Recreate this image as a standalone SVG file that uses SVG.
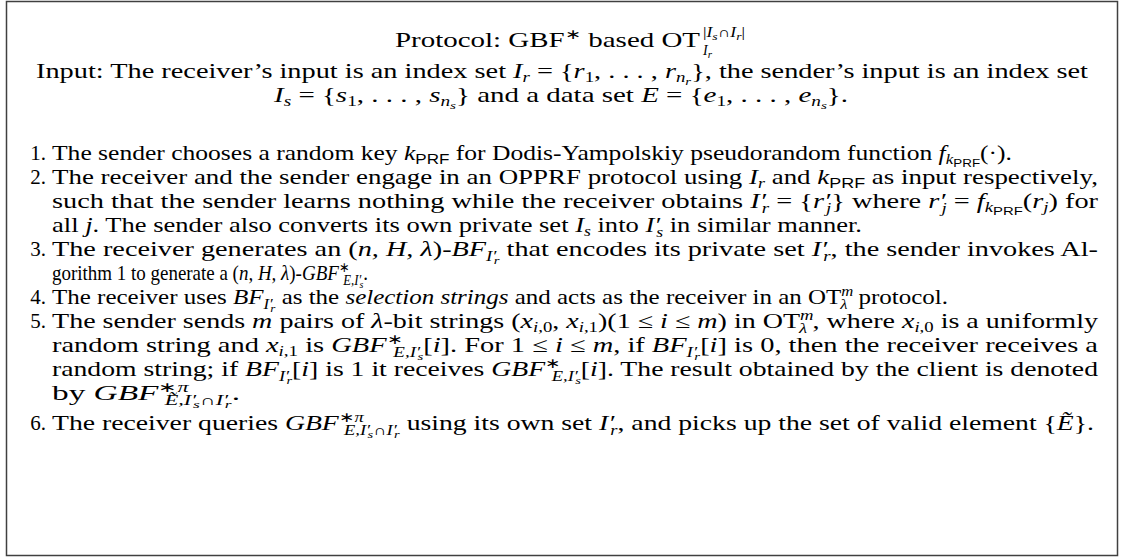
<svg xmlns="http://www.w3.org/2000/svg" width="1124" height="558" viewBox="0 0 1124 558">
<style>
.t{font-family:"Liberation Serif",serif;font-size:21px;fill:#000}
.i{font-style:italic}
.sf{font-family:"Liberation Sans",sans-serif;font-style:normal}
.s{font-size:14px}
.ss{font-size:11px}
.n{text-anchor:end}
</style>
<rect x="6.5" y="1.5" width="1111" height="554" fill="#fff" stroke="#404040" stroke-width="1.5"/>
<g id="title">
<text class="t" x="395" y="47" textLength="305" lengthAdjust="spacingAndGlyphs">Protocol: GBF<tspan class="s" dy="-8">∗</tspan><tspan dy="8"> based OT</tspan></text>
<text class="t s" x="703" y="37" textLength="42" lengthAdjust="spacingAndGlyphs">|<tspan class="i">I</tspan><tspan class="ss i" dy="3">s</tspan><tspan dy="-3">∩</tspan><tspan class="i">I</tspan><tspan class="ss i" dy="3">r</tspan><tspan dy="-3">|</tspan></text>
<text class="t s i" x="703" y="55">I<tspan class="ss" dy="3">r</tspan></text>
</g>
<g id="input">
<text class="t" x="36" y="78" textLength="1052" lengthAdjust="spacingAndGlyphs">Input: The receiver’s input is an index set <tspan class="i">I</tspan><tspan class="i s" dy="4">r</tspan><tspan dy="-4"> = {</tspan><tspan class="i">r</tspan><tspan class="s" dy="4">1</tspan><tspan dy="-4">, . . . , </tspan><tspan class="i">r</tspan><tspan class="i s" dy="4">n</tspan><tspan class="i ss" dy="3">r</tspan><tspan dy="-7">}, the sender’s input is an index set</tspan></text>
<text class="t" x="274" y="102" textLength="574" lengthAdjust="spacingAndGlyphs"><tspan class="i">I</tspan><tspan class="i s" dy="4">s</tspan><tspan dy="-4"> = {</tspan><tspan class="i">s</tspan><tspan class="s" dy="4">1</tspan><tspan dy="-4">, . . . , </tspan><tspan class="i">s</tspan><tspan class="i s" dy="4">n</tspan><tspan class="i ss" dy="3">s</tspan><tspan dy="-7">} and a data set </tspan><tspan class="i">E</tspan> = {<tspan class="i">e</tspan><tspan class="s" dy="4">1</tspan><tspan dy="-4">, . . . , </tspan><tspan class="i">e</tspan><tspan class="i s" dy="4">n</tspan><tspan class="i ss" dy="3">s</tspan><tspan dy="-7">}.</tspan></text>
</g>
<g id="step1">
<text class="t n" x="46" y="160">1.</text>
<text class="t" x="52" y="160" textLength="960" lengthAdjust="spacingAndGlyphs">The sender chooses a random key <tspan class="i">k</tspan><tspan class="sf s" dy="4">PRF</tspan><tspan dy="-4"> for Dodis-Yampolskiy pseudorandom function </tspan><tspan class="i">f</tspan><tspan class="i s" dy="4">k</tspan><tspan class="sf ss" dy="3">PRF</tspan><tspan dy="-7">(·).</tspan></text>
</g>
<g id="step2">
<text class="t n" x="46" y="184">2.</text>
<text class="t" x="52" y="184" textLength="1046" lengthAdjust="spacingAndGlyphs">The receiver and the sender engage in an OPPRF protocol using <tspan class="i">I</tspan><tspan class="i s" dy="4">r</tspan><tspan dy="-4"> and </tspan><tspan class="i">k</tspan><tspan class="sf s" dy="4">PRF</tspan><tspan dy="-4"> as input respectively,</tspan></text>
<text class="t" x="52" y="208" textLength="1046" lengthAdjust="spacingAndGlyphs">such that the sender learns nothing while the receiver obtains <tspan class="i">I′</tspan><tspan class="i s" dx="-3" dy="5">r</tspan><tspan dy="-5"> = {</tspan><tspan class="i">r′</tspan><tspan class="i s" dx="-3" dy="5">j</tspan><tspan dy="-5">} where </tspan><tspan class="i">r′</tspan><tspan class="i s" dx="-3" dy="5">j</tspan><tspan dy="-5"> = </tspan><tspan class="i">f</tspan><tspan class="i s" dy="4">k</tspan><tspan class="sf ss" dy="3">PRF</tspan><tspan dy="-7">(</tspan><tspan class="i">r</tspan><tspan class="i s" dy="4">j</tspan><tspan dy="-4">) for</tspan></text>
<text class="t" x="52" y="232" textLength="810" lengthAdjust="spacingAndGlyphs">all <tspan class="i">j</tspan>. The sender also converts its own private set <tspan class="i">I</tspan><tspan class="i s" dy="4">s</tspan><tspan dy="-4"> into </tspan><tspan class="i">I′</tspan><tspan class="i s" dx="-3" dy="5">s</tspan><tspan dy="-5"> in similar manner.</tspan></text>
</g>
<g id="step3">
<text class="t n" x="46" y="256">3.</text>
<text class="t" x="52" y="256" textLength="1046" lengthAdjust="spacingAndGlyphs">The receiver generates an (<tspan class="i">n, H, λ</tspan>)-<tspan class="i">BF</tspan><tspan class="i s" dy="5">I′</tspan><tspan class="i ss" dx="-2" dy="3">r</tspan><tspan dy="-8"> that encodes its private set </tspan><tspan class="i">I′</tspan><tspan class="i s" dx="-3" dy="5">r</tspan><tspan dy="-5">, the sender invokes Al-</tspan></text>
<text class="t" x="52" y="280" textLength="316" lengthAdjust="spacingAndGlyphs">gorithm 1 to generate a (<tspan class="i">n, H, λ</tspan>)-<tspan class="i">GBF</tspan><tspan class="s" dy="-8">∗</tspan><tspan class="i s" dx="-7" dy="13">E,I′</tspan><tspan class="i ss" dx="-2" dy="3">s</tspan><tspan dy="-8">.</tspan></text>
</g>
<g id="step4">
<text class="t n" x="46" y="304">4.</text>
<text class="t" x="52" y="304" textLength="896" lengthAdjust="spacingAndGlyphs">The receiver uses <tspan class="i">BF</tspan><tspan class="i s" dy="5">I′</tspan><tspan class="i ss" dx="-2" dy="3">r</tspan><tspan dy="-8"> as the </tspan><tspan class="i">selection strings</tspan> and acts as the receiver in an OT<tspan class="i s" dy="-8">m</tspan><tspan class="i s" dx="-11" dy="13">λ</tspan><tspan dx="4" dy="-5"> protocol.</tspan></text>
</g>
<g id="step5">
<text class="t n" x="46" y="328">5.</text>
<text class="t" x="52" y="328" textLength="1046" lengthAdjust="spacingAndGlyphs">The sender sends <tspan class="i">m</tspan> pairs of <tspan class="i">λ</tspan>-bit strings (<tspan class="i">x</tspan><tspan class="s" dy="4"><tspan class="i">i</tspan>,0</tspan><tspan dy="-4">, </tspan><tspan class="i">x</tspan><tspan class="s" dy="4"><tspan class="i">i</tspan>,1</tspan><tspan dy="-4">)(1 ≤ </tspan><tspan class="i">i</tspan> ≤ <tspan class="i">m</tspan>) in OT<tspan class="i s" dy="-8">m</tspan><tspan class="i s" dx="-11" dy="13">λ</tspan><tspan dx="4" dy="-5">, where </tspan><tspan class="i">x</tspan><tspan class="s" dy="4"><tspan class="i">i</tspan>,0</tspan><tspan dy="-4"> is a uniformly</tspan></text>
<text class="t" x="52" y="352" textLength="1046" lengthAdjust="spacingAndGlyphs">random string and <tspan class="i">x</tspan><tspan class="s" dy="4"><tspan class="i">i</tspan>,1</tspan><tspan dy="-4"> is </tspan><tspan class="i">GBF</tspan><tspan class="s" dy="-8">∗</tspan><tspan class="i s" dx="-7" dy="13">E,I′</tspan><tspan class="i ss" dx="-2" dy="3">s</tspan><tspan dy="-8">[</tspan><tspan class="i">i</tspan>]. For 1 ≤ <tspan class="i">i</tspan> ≤ <tspan class="i">m</tspan>, if <tspan class="i">BF</tspan><tspan class="i s" dy="5">I′</tspan><tspan class="i ss" dx="-2" dy="3">r</tspan><tspan dy="-8">[</tspan><tspan class="i">i</tspan>] is 0, then the receiver receives a</text>
<text class="t" x="52" y="376" textLength="1046" lengthAdjust="spacingAndGlyphs">random string; if <tspan class="i">BF</tspan><tspan class="i s" dy="5">I′</tspan><tspan class="i ss" dx="-2" dy="3">r</tspan><tspan dy="-8">[</tspan><tspan class="i">i</tspan>] is 1 it receives <tspan class="i">GBF</tspan><tspan class="s" dy="-8">∗</tspan><tspan class="i s" dx="-7" dy="13">E,I′</tspan><tspan class="i ss" dx="-2" dy="3">s</tspan><tspan dy="-8">[</tspan><tspan class="i">i</tspan>]. The result obtained by the client is denoted</text>
<text class="t" x="52" y="400" textLength="188" lengthAdjust="spacingAndGlyphs">by <tspan class="i">GBF</tspan><tspan class="s" dy="-8">∗<tspan class="i">π</tspan></tspan><tspan class="i s" dx="-15" dy="13">Ẽ,I′</tspan><tspan class="i ss" dx="-2" dy="3">s</tspan><tspan class="s" dy="-3">∩</tspan><tspan class="i s">I′</tspan><tspan class="i ss" dx="-2" dy="3">r</tspan><tspan dy="-8">.</tspan></text>
</g>
<g id="step6">
<text class="t n" x="46" y="430">6.</text>
<text class="t" x="52" y="430" textLength="1042" lengthAdjust="spacingAndGlyphs">The receiver queries <tspan class="i">GBF</tspan><tspan class="s" dy="-8">∗<tspan class="i">π</tspan></tspan><tspan class="i s" dx="-15" dy="13">E,I′</tspan><tspan class="i ss" dx="-2" dy="3">s</tspan><tspan class="s" dy="-3">∩</tspan><tspan class="i s">I′</tspan><tspan class="i ss" dx="-2" dy="3">r</tspan><tspan dy="-8"> using its own set </tspan><tspan class="i">I′</tspan><tspan class="i s" dx="-3" dy="5">r</tspan><tspan dy="-5">, and picks up the set of valid element {</tspan><tspan class="i">Ẽ</tspan>}.</text>
</g>
</svg>
